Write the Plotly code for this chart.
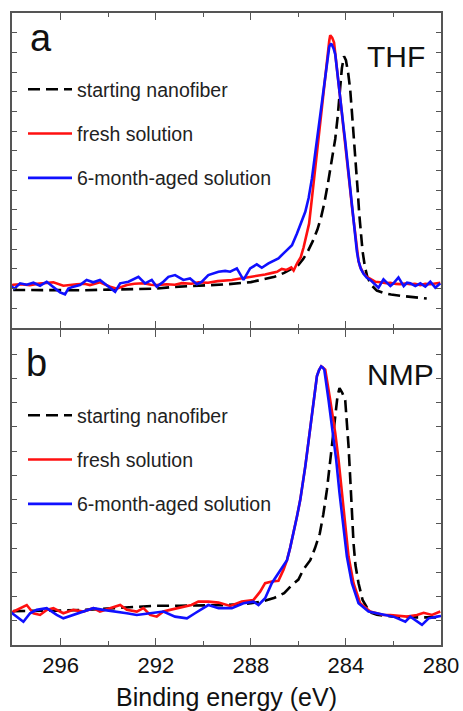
import plotly.graph_objects as go

# ---------------- DATA (binding energy in eV, intensity in arbitrary units) ----------------
# Panel a: THF
a_start_ev = [298.0, 297.0, 296.0, 295.0, 294.0, 293.0, 292.0, 291.3, 290.2, 289.0, 288.0, 287.5, 287.0,
              286.6, 286.3, 286.0, 285.8, 285.6, 285.4, 285.2, 285.05, 284.9, 284.75, 284.6, 284.45, 284.35,
              284.27, 284.17, 284.08, 284.0, 283.9, 283.82, 283.75, 283.68, 283.6, 283.55, 283.5, 283.44,
              283.37, 283.3, 283.2, 283.1, 282.95, 282.7, 282.4, 282.1, 281.6, 281.0, 280.6]
a_start_int = [1.93, 1.92, 1.93, 1.92, 1.95, 1.97, 2.0, 2.08, 2.15, 2.22, 2.33, 2.45, 2.6,
               2.8, 3.0, 3.2, 3.5, 3.9, 4.4, 5.0, 5.6, 6.4, 7.4, 8.5, 9.6, 10.7,
               12.0, 13.2, 13.8, 13.6, 12.9, 12.1, 11.0, 9.9, 8.8, 7.8, 6.9, 5.8,
               4.8, 3.9, 3.1, 2.6, 2.2, 1.9, 1.78, 1.7, 1.62, 1.56, 1.5]

a_fresh_ev = [298.13, 298.0, 297.7, 297.3, 297.0, 296.73, 296.31, 295.89, 295.6, 295.33, 295.0, 294.77,
              294.35, 293.92, 293.64, 293.22, 292.9, 292.52, 292.2, 291.96, 291.54, 291.2, 290.9, 290.5,
              290.2, 289.8, 289.4, 289.0, 288.8, 288.5, 288.24, 287.9, 287.6, 287.4, 287.1, 286.9, 286.7,
              286.5, 286.3, 286.2, 286.05, 285.9, 285.78, 285.65, 285.55, 285.43, 285.36, 285.22, 285.15,
              285.04, 284.94, 284.85, 284.77, 284.7, 284.66, 284.58, 284.5, 284.45, 284.38, 284.31, 284.24,
              284.17, 284.1, 284.03, 283.96, 283.89, 283.82, 283.75, 283.68, 283.61, 283.54, 283.47, 283.4,
              283.26, 283.12, 282.98, 282.77, 282.56, 282.3, 282.13, 281.9, 281.71, 281.5, 281.3, 281.1,
              280.87, 280.66, 280.45, 280.24, 280.03]
a_fresh_int = [2.1, 2.2, 2.22, 2.18, 2.24, 2.27, 2.32, 2.15, 2.2, 2.22, 2.25, 2.18,
               2.32, 2.1, 2.0, 2.18, 2.25, 2.27, 2.2, 2.18, 2.22, 2.2, 2.28, 2.25,
               2.32, 2.3, 2.38, 2.4, 2.44, 2.5, 2.55, 2.6, 2.65, 2.72, 2.8, 2.85, 3.0,
               2.95, 3.08, 2.92, 3.3, 3.6, 4.1, 4.7, 5.3, 6.6, 7.4, 8.8, 9.6,
               10.8, 12.0, 13.2, 14.0, 14.6, 14.87, 14.75, 14.5, 14.0, 13.3, 12.4, 11.6,
               10.9, 10.1, 9.4, 8.6, 7.8, 7.0, 6.2, 5.5, 4.6, 4.0, 3.4, 3.1,
               2.78, 2.6, 2.5, 2.35, 2.32, 2.28, 2.3, 2.24, 2.23, 2.26, 2.22, 2.25,
               2.18, 2.24, 2.22, 2.27, 2.3]

a_aged_ev = [298.13, 297.95, 297.71, 297.43, 297.15, 296.87, 296.59, 296.31, 296.03, 295.82, 295.68,
             295.47, 295.19, 294.91, 294.63, 294.35, 294.06, 293.71, 293.5, 293.15, 292.73, 292.45,
             292.17, 291.96, 291.68, 291.47, 291.19, 290.84, 290.56, 290.27, 290.06, 289.79, 289.36,
             289.08, 288.87, 288.59, 288.31, 288.03, 287.75, 287.54, 287.26, 286.84, 286.56, 286.27,
             286.06, 285.85, 285.71, 285.57, 285.43, 285.29, 285.15, 285.04, 284.91, 284.8, 284.7,
             284.62, 284.52, 284.45, 284.38, 284.31, 284.24, 284.17, 284.1, 284.03, 283.96, 283.89,
             283.82, 283.75, 283.68, 283.61, 283.54, 283.47, 283.37, 283.26, 283.12, 282.98, 282.77,
             282.63, 282.42, 282.27, 282.13, 282.0, 281.79, 281.57, 281.43, 281.29, 281.08, 280.87,
             280.66, 280.45, 280.24, 280.03]
a_aged_int = [2.18, 2.0, 2.27, 2.2, 2.3, 2.15, 2.35, 2.1, 1.81, 1.71, 2.0,
              2.1, 2.18, 2.44, 2.32, 2.44, 2.18, 1.84, 2.27, 2.35, 2.6, 2.27,
              2.44, 2.1, 2.35, 2.6, 2.69, 2.44, 2.52, 2.22, 2.35, 2.69, 2.86,
              2.9, 2.86, 3.03, 2.44, 3.03, 3.23, 3.06, 3.28, 3.54, 3.87, 4.2,
              4.8, 5.5, 5.9, 6.6, 7.6, 8.9, 10.2, 11.1, 12.6, 13.6, 14.3,
              14.45, 14.2, 13.9, 13.1, 12.5, 11.7, 10.9, 10.2, 9.5, 8.7, 7.9,
              7.0, 6.2, 5.4, 4.6, 3.9, 3.4, 3.0, 2.75, 2.55, 2.45, 2.2,
              2.05, 2.47, 2.3, 2.13, 2.27, 2.57, 2.13, 2.3, 2.27, 2.13, 2.27,
              2.1, 2.35, 2.05, 2.27]

# Panel b: NMP
b_start_ev = [298.0, 297.0, 296.0, 295.0, 294.0, 293.0, 292.0, 291.0, 290.0, 289.0, 288.5, 288.0, 287.5,
              287.0, 286.6, 286.3, 286.0, 285.8, 285.5, 285.3, 285.1, 284.95, 284.8, 284.66, 284.55, 284.45,
              284.35, 284.27, 284.15, 284.03, 283.96, 283.89, 283.82, 283.75, 283.68, 283.6, 283.47, 283.3,
              283.0, 282.7, 282.0, 281.0, 280.0]
b_start_int = [1.4, 1.4, 1.42, 1.45, 1.5, 1.58, 1.62, 1.62, 1.63, 1.65, 1.68, 1.72, 1.8,
               1.95, 2.14, 2.45, 2.7, 3.1, 3.5, 4.0, 4.6, 5.4, 6.4, 7.6, 8.6, 9.4,
               10.3, 10.6, 10.4, 10.1, 9.2, 8.2, 6.9, 5.5, 4.2, 3.3, 2.55, 1.86,
               1.35, 1.25, 1.17, 1.14, 1.14]

b_fresh_ev = [298.13, 297.85, 297.43, 297.15, 296.87, 296.59, 296.31, 295.89, 295.47, 295.05, 294.63,
              294.35, 293.92, 293.5, 293.22, 292.8, 292.52, 292.24, 291.96, 291.68, 291.4, 290.91, 290.5,
              290.21, 289.79, 289.36, 288.87, 288.38, 287.89, 287.61, 287.4, 287.12, 286.84, 286.63,
              286.48, 286.35, 286.21, 286.06, 285.92, 285.8, 285.71, 285.62, 285.53, 285.45, 285.36,
              285.29, 285.22, 285.13, 285.04, 284.97, 284.87, 284.66, 284.45, 284.31, 284.17, 284.03,
              283.89, 283.68, 283.4, 282.98, 282.42, 282.13, 281.43, 281.01, 280.73, 280.38, 280.03]
b_fresh_int = [1.31, 1.45, 1.65, 1.31, 1.24, 1.45, 1.52, 1.31, 1.45, 1.38, 1.52,
               1.38, 1.52, 1.65, 1.45, 1.38, 1.52, 1.24, 1.17, 1.38, 1.45, 1.56, 1.65,
               1.79, 1.79, 1.75, 1.61, 1.79, 1.86, 2.2, 2.55, 2.62, 2.65, 3.1,
               3.5, 4.0, 4.6, 5.3, 6.0, 6.7, 7.37, 8.05, 8.75, 9.4, 10.1,
               10.6, 11.1, 11.35, 11.5, 11.45, 11.36, 10.1, 8.75, 7.64, 6.27, 4.89,
               3.65, 2.55, 1.72, 1.38, 1.24, 1.24, 1.17, 1.24, 1.33, 1.24, 1.38]

b_aged_ev = [298.13, 297.85, 297.57, 297.29, 297.01, 296.59, 296.17, 295.89, 295.47, 295.05, 294.63,
             294.21, 293.64, 293.22, 292.8, 292.24, 291.68, 291.19, 290.69, 290.35, 289.79, 289.36,
             288.8, 288.31, 287.89, 287.68, 287.4, 287.12, 286.77, 286.48, 286.35, 286.21, 286.06,
             285.92, 285.8, 285.71, 285.62, 285.53, 285.45, 285.36, 285.29, 285.22, 285.13, 285.04,
             284.97, 284.91, 284.73, 284.55, 284.41, 284.27, 284.1, 283.96, 283.75, 283.47, 283.05,
             282.42, 282.0, 281.5, 281.29, 280.8, 280.52, 280.17, 280.0]
b_aged_int = [1.38, 1.17, 0.96, 1.31, 1.45, 1.52, 1.24, 1.1, 1.24, 1.38, 1.52,
              1.45, 1.38, 1.31, 1.24, 1.31, 1.38, 1.17, 1.1, 1.31, 1.65, 1.52,
              1.52, 1.72, 1.79, 1.65, 1.93, 2.55, 3.1, 3.5, 4.0, 4.6, 5.3,
              6.0, 6.7, 7.37, 8.05, 8.75, 9.4, 10.1, 10.6, 11.1, 11.35, 11.5,
              11.45, 11.36, 10.1, 8.75, 7.64, 6.27, 4.89, 3.65, 2.55, 1.72, 1.38,
              1.24, 1.17, 0.96, 1.17, 0.83, 1.1, 1.17, 1.2]

series_names = ["starting nanofiber", "fresh solution", "6-month-aged solution"]
panel_labels = ["a", "b"]
solvent_labels = ["THF", "NMP"]
x_major_ticks = [296, 292, 288, 284, 280]
x_minor_ticks = [294, 290, 286, 282]
x_title = "Binding energy (eV)"

# ---------------- STYLE ----------------
FONT = "Arial, Liberation Sans, sans-serif"
AX = "#555555"
colors = ["#000000", "#ff1010", "#1010ff"]
W, H = 463, 711
ML, MR, MT, MB = 12, 22, 13, 66
PW, PH = W - ML - MR, H - MT - MB

def px2x(px):
    return (px - ML) / PW

def py2y(py):
    return 1 - (py - MT) / PH

fig = go.Figure()

panels = [
    (a_start_ev, a_start_int, a_fresh_ev, a_fresh_int, a_aged_ev, a_aged_int),
    (b_start_ev, b_start_int, b_fresh_ev, b_fresh_int, b_aged_ev, b_aged_int),
]
for i, p in enumerate(panels):
    xa = "x" if i == 0 else "x2"
    ya = "y" if i == 0 else "y2"
    leg = "legend" if i == 0 else "legend2"
    for k in range(3):
        fig.add_trace(go.Scatter(
            x=p[2 * k], y=p[2 * k + 1], mode="lines", name=series_names[k],
            xaxis=xa, yaxis=ya, legend=leg, legendgroup=f"{i}{k}",
            line=dict(color=colors[k], width=2.6, dash="12px,6px" if k == 0 else "solid"),
        ))

common_x = dict(range=[298.05, 280], showline=True, linecolor=AX, linewidth=1.5, mirror="allticks",
                ticks="inside", ticklen=7, tickwidth=1.2, tickcolor=AX, tickvals=x_major_ticks,
                minor=dict(tickvals=x_minor_ticks, ticks="inside", ticklen=4, tickwidth=1.2, tickcolor=AX),
                showgrid=False, zeroline=False, automargin=False,
                tickfont=dict(family=FONT, size=22, color="#111"))
common_y = dict(showline=True, linecolor=AX, linewidth=1.5, mirror="allticks", ticks="inside",
                ticklen=5, tickwidth=1.2, tickcolor=AX, dtick=1, tick0=0, showticklabels=False,
                showgrid=False, zeroline=False, automargin=False)

dom_a = [py2y(328), 1]
dom_b = [0, py2y(330)]

legend_common = dict(xanchor="left", yanchor="top", bgcolor="rgba(0,0,0,0)",
                     font=dict(family=FONT, size=19.5, color="#222"), tracegroupgap=16, itemwidth=44)

fig.update_layout(
    width=W, height=H, margin=dict(l=ML, r=MR, t=MT, b=MB, autoexpand=False),
    paper_bgcolor="white", plot_bgcolor="white",
    xaxis=dict(common_x, domain=[0, 1], anchor="y", showticklabels=False),
    yaxis=dict(common_y, domain=dom_a, range=[0, 16], anchor="x"),
    xaxis2=dict(common_x, domain=[0, 1], anchor="y2", showticklabels=True,
                title=dict(text=x_title, font=dict(family=FONT, size=25, color="#111"), standoff=12)),
    yaxis2=dict(common_y, domain=dom_b, range=[0, 13], anchor="x2"),
    legend=dict(legend_common, x=px2x(23), y=py2y(70)),
    legend2=dict(legend_common, x=px2x(23), y=py2y(396)),
    showlegend=True,
)

for i, (lx, ly) in enumerate([(28, 38), (24, 363)]):
    fig.add_annotation(text=panel_labels[i], x=px2x(lx), y=py2y(ly), xref="paper", yref="paper",
                       xanchor="left", yanchor="middle", showarrow=False,
                       font=dict(family=FONT, size=38, color="#111"))
for i, (lx, ly) in enumerate([(396, 56), (400, 374)]):
    fig.add_annotation(text=solvent_labels[i], x=px2x(lx), y=py2y(ly), xref="paper", yref="paper",
                       xanchor="center", yanchor="middle", showarrow=False,
                       font=dict(family=FONT, size=30, color="#111"))

fig.write_html("out.html")
